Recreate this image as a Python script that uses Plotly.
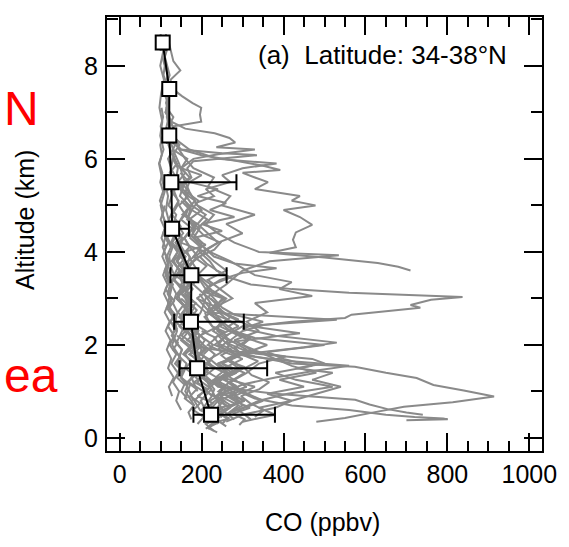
import plotly.graph_objects as go

# ---- Mean CO profile (1-km bins) with asymmetric spread ----
mean_alt = [0.5, 1.5, 2.5, 3.5, 4.5, 5.5, 6.5, 7.5, 8.5]
mean_co = [223, 189, 174, 175, 128, 126, 121, 121, 105]
spread_plus = [156, 171, 129, 86, 41, 159, 10, 10, 8]
spread_minus = [43, 43, 41, 51, 8, 8, 6, 6, 5]

# ---- Individual aircraft CO profiles (altitude km, CO ppbv) ----
alt_p01 = [8.6, 8.4, 8.2, 8.0, 7.8, 7.6, 7.4, 7.2, 7.0, 6.8, 6.6, 6.4, 6.2, 6.0, 5.8, 5.6, 5.4, 5.2, 5.0, 4.8, 4.6, 4.4, 4.2, 4.0, 3.8, 3.6, 3.4, 3.2, 3.0, 2.8, 2.6, 2.4, 2.2, 2.0, 1.8, 1.6, 1.4, 1.2, 1.0, 0.8, 0.6]
co_p01 = [112, 118, 110, 116, 122, 114, 119, 113, 121, 117, 112, 124, 130, 118, 126, 121, 133, 127, 119, 138, 131, 142, 128, 147, 139, 156, 149, 163, 171, 158, 176, 168, 182, 174, 191, 203, 188, 214, 226, 240, 251]

alt_p02 = [8.5, 8.3, 8.1, 7.9, 7.7, 7.5, 7.35, 7.2, 7.1, 6.95, 6.8, 6.75, 6.7, 6.5, 6.3, 6.1, 5.9, 5.7, 5.5, 5.3, 5.1, 4.9, 4.7, 4.5, 4.3, 4.1, 3.9, 3.7, 3.5, 3.3, 3.1, 2.9, 2.7, 2.5, 2.3, 2.1, 1.9, 1.7, 1.5, 1.3, 1.1, 0.9, 0.7]
co_p02 = [120, 126, 131, 148, 124, 130, 152, 178, 199, 196, 199, 166, 131, 124, 119, 128, 140, 122, 135, 126, 144, 131, 120, 139, 152, 136, 161, 144, 133, 170, 152, 186, 164, 149, 192, 177, 210, 185, 232, 204, 258, 236, 271]

alt_p03 = [8.2, 8.0, 7.8, 7.6, 7.4, 7.2, 7.0, 6.8, 6.65, 6.55, 6.45, 6.35, 6.25, 6.2, 6.1, 6.0, 5.8, 5.6, 5.4, 5.2, 5.0, 4.8, 4.6, 4.4, 4.2, 4.0, 3.8, 3.6, 3.4, 3.2, 3.0, 2.8, 2.6, 2.4, 2.2, 2.0, 1.8, 1.6, 1.4, 1.2, 1.0, 0.8, 0.6, 0.4]
co_p03 = [104, 110, 107, 115, 109, 118, 112, 126, 160, 232, 268, 282, 236, 330, 240, 180, 150, 171, 143, 162, 178, 153, 190, 166, 149, 210, 181, 163, 199, 222, 188, 240, 207, 226, 262, 231, 285, 249, 305, 268, 241, 290, 262, 230]

alt_p04 = [7.0, 6.8, 6.6, 6.4, 6.2, 6.08, 5.95, 5.85, 5.76, 5.7, 5.6, 5.5, 5.35, 5.2, 5.1, 5.0, 4.9, 4.75, 4.58, 4.42, 4.26, 4.1, 3.98, 3.88, 3.76, 3.68, 3.6]
co_p04 = [118, 124, 135, 129, 150, 200, 290, 350, 392, 300, 330, 362, 330, 440, 420, 478, 400, 440, 470, 430, 423, 430, 366, 500, 630, 680, 710]

alt_p05 = [6.0, 5.8, 5.6, 5.4, 5.2, 5.0, 4.8, 4.6, 4.4, 4.2, 4.0, 3.8, 3.6, 3.45, 3.3, 3.2, 3.12, 3.07, 3.03, 2.97, 2.86, 2.8, 2.72, 2.65, 2.58, 2.5, 2.43, 2.3, 2.1, 1.9, 1.7, 1.5, 1.3, 1.1, 0.9, 0.7, 0.5]
co_p05 = [130, 142, 138, 155, 147, 170, 162, 185, 178, 201, 195, 220, 236, 268, 320, 420, 560, 698, 837, 760, 710, 734, 640, 566, 550, 420, 351, 300, 270, 310, 260, 290, 250, 330, 280, 300, 260]

alt_p06 = [4.5, 4.3, 4.1, 3.9, 3.7, 3.5, 3.3, 3.1, 2.9, 2.7, 2.5, 2.3, 2.1, 1.9, 1.75, 1.6, 1.53, 1.4, 1.29, 1.14, 1.02, 0.89, 0.77, 0.67, 0.55, 0.43, 0.35]
co_p06 = [140, 152, 148, 171, 165, 188, 180, 205, 222, 214, 246, 238, 270, 262, 330, 420, 574, 650, 725, 766, 840, 914, 813, 694, 620, 550, 480]

alt_p07 = [3.0, 2.8, 2.6, 2.4, 2.2, 2.0, 1.8, 1.6, 1.4, 1.2, 1.0, 0.85, 0.7, 0.6, 0.5, 0.45, 0.42, 0.4, 0.38]
co_p07 = [160, 172, 168, 190, 184, 205, 232, 216, 258, 244, 290, 330, 420, 560, 650, 720, 790, 801, 700]

alt_p08 = [2.5, 2.3, 2.1, 1.9, 1.7, 1.5, 1.3, 1.1, 0.95, 0.82, 0.72, 0.62, 0.55, 0.5]
co_p08 = [150, 165, 178, 170, 196, 188, 215, 240, 380, 575, 610, 654, 700, 740]

alt_p09 = [3.5, 3.3, 3.1, 2.9, 2.7, 2.54, 2.4, 2.2, 2.0, 1.8, 1.65, 1.55, 1.45, 1.3, 1.15, 1.0, 0.8, 0.6, 0.45]
co_p09 = [150, 168, 160, 185, 210, 530, 300, 260, 240, 280, 420, 560, 480, 380, 300, 260, 240, 220, 250]

alt_p10 = [2.2, 2.0, 1.9, 1.8, 1.7, 1.6, 1.5, 1.4, 1.25, 1.1, 0.95, 0.8, 0.65, 0.5, 0.35]
co_p10 = [140, 170, 230, 350, 470, 500, 430, 520, 470, 540, 480, 420, 380, 300, 260]

alt_p11 = [0.3, 0.55, 0.8, 1.05, 1.3, 1.55, 1.8, 2.05, 2.3, 2.55, 2.8, 3.05, 3.3, 3.55, 3.8, 4.05, 4.3, 4.55, 4.8, 5.05, 5.3, 5.55, 5.8, 6.05]
co_p11 = [235, 212, 198, 224, 186, 205, 172, 190, 166, 181, 158, 174, 150, 162, 141, 155, 137, 149, 128, 144, 133, 140, 125, 131]

alt_p12 = [0.5, 0.7, 0.9, 1.1, 1.3, 1.5, 1.7, 1.9, 2.1, 2.3, 2.5, 2.7, 2.9, 3.1, 3.3, 3.5, 3.7, 3.9, 4.1, 4.3, 4.5, 4.7, 4.9, 5.1, 5.3, 5.5]
co_p12 = [260, 290, 245, 310, 270, 255, 300, 240, 265, 228, 250, 215, 236, 205, 222, 190, 212, 180, 198, 172, 186, 165, 176, 158, 168, 150]

alt_p13 = [0.2, 0.4, 0.6, 0.8, 1.0, 1.2, 1.4, 1.6, 1.8, 2.0, 2.2, 2.4, 2.6, 2.8, 3.0, 3.2, 3.4, 3.6, 3.8, 4.0, 4.2, 4.4]
co_p13 = [215, 240, 196, 182, 205, 168, 190, 175, 160, 184, 151, 170, 145, 162, 139, 158, 132, 149, 127, 141, 125, 136]

alt_p14 = [1.0, 1.3, 1.6, 1.9, 2.2, 2.5, 2.8, 3.1, 3.4, 3.7, 4.0, 4.2, 4.4, 4.6, 4.8, 5.0, 5.2, 5.4, 5.6, 5.8, 6.0, 6.2, 6.4, 6.6]
co_p14 = [190, 175, 210, 168, 195, 160, 182, 150, 176, 148, 200, 240, 300, 260, 330, 250, 270, 215, 230, 180, 160, 145, 135, 125]

alt_p15 = [0.4, 0.6, 0.8, 1.0, 1.2, 1.4, 1.6, 1.8, 2.0, 2.2, 2.4, 2.6, 2.8, 3.0, 3.2, 3.4, 3.55, 3.65, 3.75, 3.9, 4.1, 4.3, 4.5, 4.7, 4.9, 5.1]
co_p15 = [280, 250, 305, 262, 230, 275, 240, 300, 360, 290, 245, 270, 228, 255, 210, 245, 300, 383, 280, 230, 205, 180, 195, 165, 172, 150]

alt_p16 = [0.6, 0.9, 1.2, 1.5, 1.8, 2.1, 2.4, 2.7, 3.0, 3.3, 3.6, 3.8, 3.93, 4.0, 4.2, 4.4, 4.6, 4.8, 5.0, 5.3, 5.6, 5.9, 6.2]
co_p16 = [200, 225, 190, 215, 182, 208, 176, 198, 210, 260, 300, 366, 535, 340, 280, 240, 210, 230, 190, 170, 155, 145, 130]

alt_p17 = [0.3, 0.5, 0.7, 0.9, 1.1, 1.3, 1.5, 1.7, 1.9, 2.1, 2.3, 2.5, 2.7, 2.9, 3.05, 3.2, 3.35, 3.5, 3.65, 3.8, 4.0, 4.2, 4.4]
co_p17 = [240, 225, 260, 235, 280, 250, 300, 265, 320, 280, 340, 310, 360, 330, 470, 390, 420, 330, 300, 270, 220, 190, 170]

alt_p18 = [0.6, 0.8, 1.0, 1.2, 1.4, 1.6, 1.8, 2.0, 2.2, 2.4, 2.6, 2.8, 3.0, 3.2, 3.4, 3.6, 3.8, 4.0, 4.2, 4.4, 4.6, 4.8, 5.0]
co_p18 = [150, 138, 145, 130, 142, 126, 138, 122, 133, 118, 130, 115, 127, 112, 124, 110, 120, 108, 118, 106, 114, 104, 110]

alt_p19 = [0.15, 0.3, 0.45, 0.6, 0.75, 0.9, 1.05, 1.2, 1.35, 1.5, 1.65, 1.8, 1.95, 2.1, 2.25, 2.4, 2.55, 2.7, 2.85, 3.0]
co_p19 = [230, 210, 245, 200, 228, 190, 215, 182, 205, 176, 198, 170, 190, 165, 182, 160, 175, 154, 168, 150]

alt_p20 = [0.4, 0.6, 0.8, 1.0, 1.2, 1.4, 1.6, 1.75, 1.9, 2.05, 2.25, 2.4, 2.6, 2.8, 3.0, 3.2, 3.4, 3.6, 3.8, 4.0]
co_p20 = [320, 290, 350, 300, 270, 310, 340, 405, 300, 260, 440, 320, 270, 240, 260, 220, 200, 190, 175, 165]

alt_p21 = [8.6, 8.3, 8.0, 7.7, 7.4, 7.1, 6.8, 6.5, 6.2, 5.9, 5.6, 5.3, 5.0, 4.7, 4.4, 4.1, 3.8, 3.5, 3.2, 2.9, 2.6, 2.3, 2.0, 1.7, 1.4, 1.1, 0.8]
co_p21 = [102, 106, 99, 108, 101, 97, 104, 99, 107, 96, 103, 110, 100, 108, 114, 105, 119, 112, 126, 118, 133, 140, 128, 150, 143, 165, 180]

alt_p22 = [8.4, 8.1, 7.8, 7.5, 7.2, 6.9, 6.6, 6.35, 6.2, 6.12, 6.08, 6.02, 5.95, 5.8, 5.6, 5.4, 5.2, 5.0, 4.8, 4.6, 4.4, 4.2, 4.0, 3.8, 3.6, 3.4, 3.2, 3.0, 2.8, 2.6, 2.4]
co_p22 = [114, 109, 117, 111, 120, 115, 123, 129, 150, 250, 335, 260, 180, 165, 175, 150, 168, 145, 160, 140, 155, 136, 150, 132, 146, 130, 155, 140, 165, 150, 175]

alt_p23 = [7.2, 7.0, 6.8, 6.6, 6.4, 6.2, 6.0, 5.9, 5.8, 5.65, 5.5, 5.35, 5.2, 5.05, 4.9, 4.7, 4.5, 4.3, 4.1, 3.9, 3.7, 3.5, 3.3, 3.1, 2.9, 2.7, 2.5, 2.3, 2.1, 1.9, 1.7, 1.5]
co_p23 = [118, 112, 125, 119, 140, 170, 240, 383, 300, 250, 270, 210, 230, 185, 200, 170, 180, 158, 170, 150, 162, 145, 158, 140, 152, 170, 160, 185, 175, 200, 190, 215]

alt_p24 = [0.35, 0.5, 0.65, 0.8, 0.95, 1.1, 1.25, 1.4, 1.55, 1.7, 1.85, 2.0, 2.15, 2.3, 2.45, 2.6, 2.8, 3.0]
co_p24 = [300, 380, 340, 420, 360, 450, 390, 480, 420, 380, 340, 300, 320, 270, 250, 230, 210, 190]

alt_p25 = [0.3, 0.45, 0.6, 0.75, 0.9, 1.05, 1.2, 1.35, 1.5, 1.65, 1.8, 1.95, 2.1, 2.25, 2.4, 2.55, 2.7, 2.85, 3.0, 3.2, 3.4, 3.6, 3.8, 4.0, 4.2]
co_p25 = [190, 205, 180, 196, 172, 188, 165, 182, 160, 176, 155, 170, 150, 164, 146, 160, 142, 155, 138, 150, 134, 146, 130, 142, 128]

alt_p26 = [0.8, 1.0, 1.2, 1.4, 1.6, 1.8, 2.0, 2.2, 2.4, 2.6, 2.8, 3.0, 3.2, 3.4, 3.6, 3.8, 4.0, 4.2, 4.4, 4.6, 4.8, 5.0]
co_p26 = [220, 260, 235, 285, 250, 300, 265, 240, 290, 255, 230, 275, 245, 215, 260, 230, 205, 240, 215, 190, 210, 175]

alt_p27 = [0.9, 1.1, 1.3, 1.5, 1.7, 1.9, 2.1, 2.3, 2.5, 2.7, 2.9, 3.1, 3.3, 3.5, 3.7, 3.9, 4.1, 4.3, 4.5, 4.7, 4.9, 5.1, 5.3, 5.5, 5.7, 5.9, 6.1, 6.3, 6.5, 6.7, 6.9, 7.1]
co_p27 = [128, 120, 132, 118, 126, 115, 124, 112, 122, 110, 119, 108, 117, 106, 114, 104, 112, 102, 110, 100, 108, 98, 106, 99, 104, 97, 103, 99, 105, 100, 106, 102]

alt_p28 = [0.5, 0.65, 0.8, 0.95, 1.1, 1.25, 1.4, 1.55, 1.7, 1.85, 2.0, 2.15, 2.3, 2.5, 2.7, 2.9, 3.1]
co_p28 = [260, 300, 340, 410, 520, 430, 380, 470, 400, 360, 500, 330, 280, 250, 230, 210, 195]

alt_p29 = [0.25, 0.4, 0.55, 0.7, 0.85, 1.0, 1.15, 1.3, 1.45, 1.6, 1.75, 1.9, 2.05, 2.2, 2.35, 2.5, 2.65, 2.8, 2.95, 3.1, 3.25, 3.4]
co_p29 = [260, 235, 250, 220, 240, 210, 228, 200, 215, 190, 205, 182, 196, 176, 190, 170, 184, 165, 178, 160, 172, 155]

alt_p30 = [3.8, 4.0, 4.15, 4.3, 4.45, 4.6, 4.75, 4.9, 5.05, 5.2, 5.35, 5.5, 5.65, 5.8, 6.0, 6.2, 6.4, 6.6, 6.8]
co_p30 = [140, 160, 210, 180, 250, 200, 280, 220, 260, 190, 240, 170, 200, 150, 165, 130, 140, 120, 128]

alt_p31 = [0.2, 0.35, 0.5, 0.65, 0.8, 0.95, 1.1, 1.25, 1.4, 1.55, 1.7, 1.85, 2.0, 2.15, 2.3]
co_p31 = [210, 245, 225, 270, 240, 285, 255, 230, 265, 240, 220, 250, 215, 235, 200]

alt_p32 = [0.85, 1.0, 1.15, 1.3, 1.45, 1.6, 1.75, 1.9, 2.05, 2.2, 2.35, 2.5, 2.65, 2.8, 2.95, 3.1, 3.3, 3.5, 3.7, 3.9, 4.1, 4.3, 4.5]
co_p32 = [165, 150, 158, 140, 152, 135, 147, 130, 142, 127, 139, 124, 136, 121, 133, 119, 130, 117, 128, 115, 125, 113, 122]

alt_p33 = [1.2, 1.4, 1.6, 1.8, 1.95, 2.05, 2.2, 2.35, 2.5, 2.65, 2.8, 3.0, 3.2, 3.4, 3.6]
co_p33 = [230, 260, 240, 300, 450, 530, 380, 300, 350, 280, 250, 230, 210, 195, 180]

alt_p34 = [0.3, 0.42, 0.55, 0.68, 0.8, 0.93, 1.05, 1.18, 1.3, 1.43, 1.55, 1.68, 1.8, 1.93, 2.05, 2.18, 2.3, 2.45, 2.6, 2.75, 2.9, 3.05, 3.2, 3.4, 3.6, 3.8, 4.0]
co_p34 = [250, 262, 238, 241, 255, 226, 231, 219, 237, 212, 204, 221, 198, 207, 189, 195, 210, 183, 176, 188, 171, 165, 178, 160, 152, 158, 146]

alt_p35 = [0.4, 0.55, 0.7, 0.85, 1.0, 1.15, 1.3, 1.45, 1.6, 1.75, 1.9, 2.05, 2.2, 2.35, 2.5, 2.7, 2.9, 3.1, 3.3, 3.5, 3.7, 3.9, 4.1, 4.3, 4.6, 4.9, 5.2, 5.5]
co_p35 = [175, 168, 181, 159, 166, 172, 150, 158, 163, 145, 152, 139, 147, 155, 136, 141, 130, 138, 126, 133, 124, 121, 129, 117, 122, 113, 118, 110]

alt_p36 = [0.28, 0.4, 0.52, 0.65, 0.78, 0.9, 1.02, 1.15, 1.28, 1.4, 1.52, 1.65, 1.78, 1.9, 2.02, 2.15, 2.28, 2.4, 2.55, 2.7]
co_p36 = [292, 305, 276, 318, 284, 262, 297, 271, 255, 283, 306, 266, 248, 274, 243, 231, 257, 226, 215, 208]

alt_p37 = [1.8, 2.0, 2.2, 2.4, 2.55, 2.7, 2.85, 3.0, 3.15, 3.3, 3.45, 3.6, 3.75, 3.9, 4.05, 4.2, 4.35, 4.5, 4.7, 4.9, 5.1, 5.3, 5.5, 5.7]
co_p37 = [205, 228, 196, 240, 262, 218, 236, 251, 204, 226, 270, 238, 212, 195, 231, 246, 206, 189, 214, 176, 192, 161, 170, 148]

alt_p38 = [0.45, 0.6, 0.75, 0.9, 1.05, 1.2, 1.35, 1.5, 1.65, 1.8, 1.95, 2.1, 2.25, 2.4, 2.55, 2.7, 2.85, 3.0]
co_p38 = [330, 352, 318, 296, 341, 365, 322, 305, 338, 296, 281, 312, 287, 266, 290, 252, 238, 222]

alt_p39 = [0.7, 0.85, 1.0, 1.15, 1.3, 1.45, 1.6, 1.75, 1.9, 2.05, 2.2, 2.35, 2.5, 2.65, 2.8, 2.95, 3.1, 3.3, 3.5, 3.7, 3.9]
co_p39 = [182, 171, 160, 166, 149, 155, 141, 146, 152, 137, 128, 134, 125, 131, 120, 126, 117, 123, 114, 119, 112]

alt_p40 = [3.5, 3.7, 3.9, 4.1, 4.3, 4.5, 4.7, 4.9, 5.1, 5.3, 5.5, 5.7, 5.9, 6.1, 6.3, 6.5, 6.7, 6.9, 7.1, 7.3]
co_p40 = [182, 166, 191, 172, 158, 177, 149, 163, 184, 151, 142, 160, 137, 131, 146, 125, 120, 131, 114, 118]

alt_p41 = [0.12, 0.22, 0.32, 0.42, 0.52, 0.62, 0.72, 0.82, 0.92, 1.02, 1.12, 1.22, 1.32, 1.42, 1.52, 1.65, 1.8]
co_p41 = [238, 214, 226, 268, 245, 231, 276, 302, 258, 244, 285, 262, 237, 251, 228, 215, 202]

profiles = [
    (alt_p01, co_p01), (alt_p02, co_p02), (alt_p03, co_p03), (alt_p04, co_p04),
    (alt_p05, co_p05), (alt_p06, co_p06), (alt_p07, co_p07), (alt_p08, co_p08),
    (alt_p09, co_p09), (alt_p10, co_p10), (alt_p11, co_p11), (alt_p12, co_p12),
    (alt_p13, co_p13), (alt_p14, co_p14), (alt_p15, co_p15), (alt_p16, co_p16),
    (alt_p17, co_p17), (alt_p18, co_p18), (alt_p19, co_p19), (alt_p20, co_p20),
    (alt_p21, co_p21), (alt_p22, co_p22), (alt_p23, co_p23), (alt_p24, co_p24),
    (alt_p25, co_p25), (alt_p26, co_p26), (alt_p27, co_p27), (alt_p28, co_p28),
    (alt_p29, co_p29), (alt_p30, co_p30), (alt_p31, co_p31), (alt_p32, co_p32),
    (alt_p33, co_p33), (alt_p34, co_p34), (alt_p35, co_p35), (alt_p36, co_p36),
    (alt_p37, co_p37), (alt_p38, co_p38), (alt_p39, co_p39), (alt_p40, co_p40),
    (alt_p41, co_p41),
]

x_ticks = [0, 200, 400, 600, 800, 1000]
y_ticks = [0, 2, 4, 6, 8]

FONT = "Liberation Sans, Arial, sans-serif"
GRAY = "rgb(138,138,138)"

fig = go.Figure()

for alt, co in profiles:
    fig.add_trace(go.Scatter(
        x=co, y=alt, mode="lines",
        line=dict(color=GRAY, width=2),
        hoverinfo="skip", showlegend=False,
    ))

fig.add_trace(go.Scatter(
    x=mean_co, y=mean_alt, mode="lines+markers",
    line=dict(color="black", width=2),
    marker=dict(symbol="square", size=14, color="white",
                line=dict(color="black", width=2)),
    error_x=dict(type="data", symmetric=False,
                 array=spread_plus, arrayminus=spread_minus,
                 color="black", thickness=2, width=8),
    showlegend=False,
))

axis_common = dict(
    showline=True, linecolor="black", linewidth=2, mirror="allticks",
    ticks="inside", tickcolor="black", tickwidth=2, ticklen=18,
    showgrid=False, zeroline=False,
    tickfont=dict(family=FONT, size=25, color="black"),
)

fig.update_xaxes(
    range=[-31, 1031], tickvals=x_ticks,
    minor=dict(dtick=50, tick0=0, ticks="inside", ticklen=10,
               tickwidth=2, tickcolor="black", showgrid=False),
    **axis_common,
)
fig.update_yaxes(
    range=[-0.28, 9.05], tickvals=y_ticks,
    minor=dict(dtick=1, tick0=0, ticks="inside", ticklen=11,
               tickwidth=2, tickcolor="black", showgrid=False),
    ticklabelstandoff=2,
    **axis_common,
)

annotations = [
    dict(text="(a)\u00a0 Latitude: 34-38°N", xref="paper", yref="paper",
         x=0.925, y=0.912, xanchor="right", yanchor="middle",
         font=dict(family=FONT, size=26, color="black"), showarrow=False),
    dict(text="Altitude (km)", xref="paper", yref="paper",
         x=-0.189, y=0.532, xanchor="center", yanchor="middle", textangle=-90,
         font=dict(family=FONT, size=25, color="black"), showarrow=False),
    dict(text="CO (ppbv)", xref="paper", yref="paper",
         x=0.495, y=-0.164, xanchor="center", yanchor="middle",
         font=dict(family=FONT, size=25, color="black"), showarrow=False),
    dict(text="N", xref="paper", yref="paper",
         x=-0.241, y=0.79, xanchor="left", yanchor="middle",
         font=dict(family=FONT, size=48, color="red"), showarrow=False),
    dict(text="ea", xref="paper", yref="paper",
         x=-0.241, y=0.175, xanchor="left", yanchor="middle",
         font=dict(family=FONT, size=48, color="red"), showarrow=False),
]

fig.update_layout(
    width=569, height=547,
    margin=dict(l=107, r=18, t=17, b=96),
    paper_bgcolor="white", plot_bgcolor="white",
    annotations=annotations,
    showlegend=False,
)

fig.write_html("out.html")
